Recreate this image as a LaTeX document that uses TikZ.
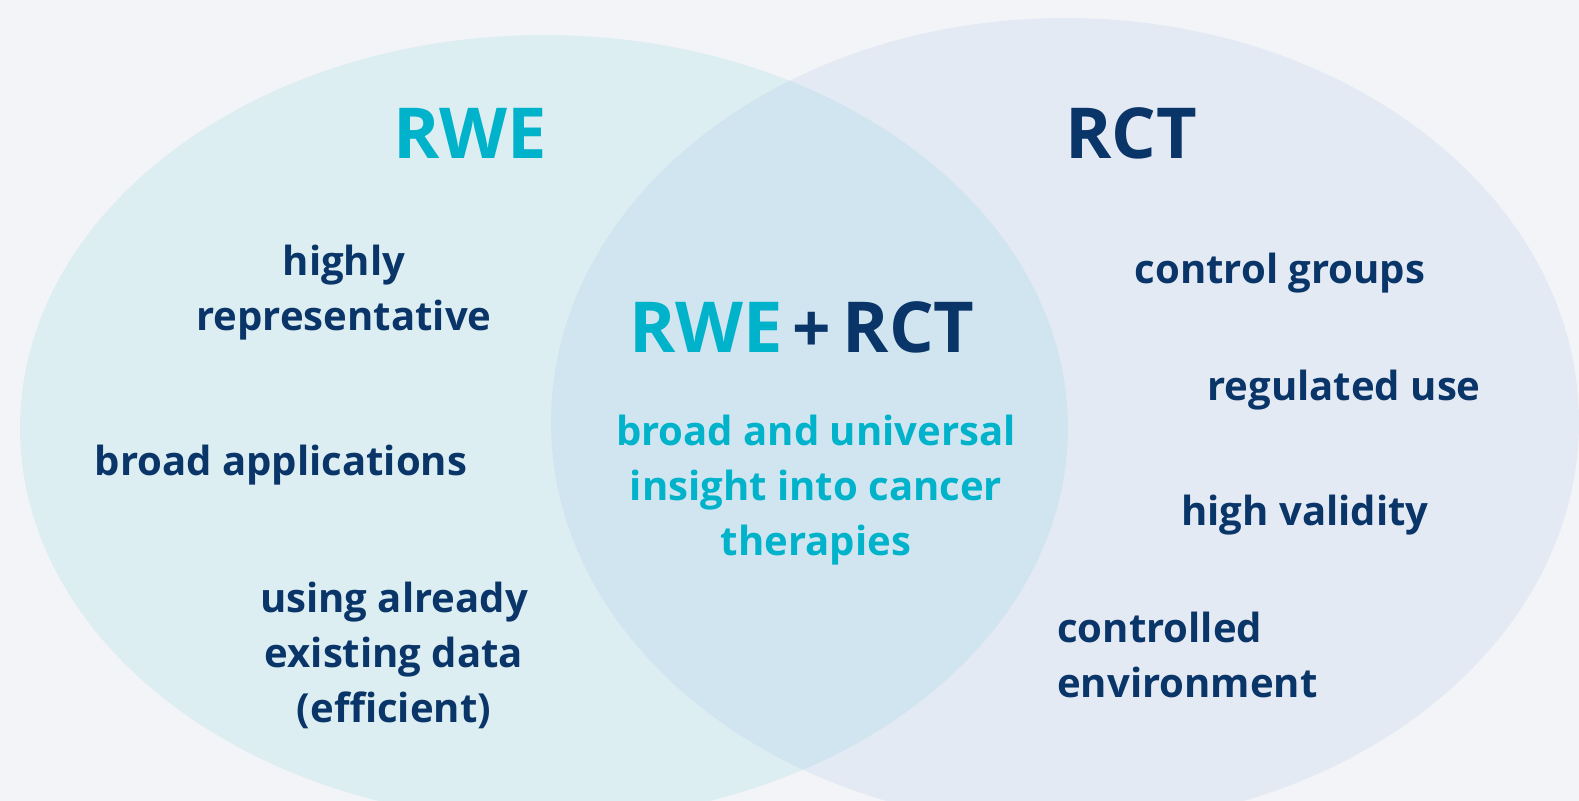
\documentclass[tikz,border=0pt]{standalone}
\usepackage{fontspec}
\setmainfont{Open Sans}
\usepackage{tikz}

\definecolor{paper}{HTML}{F3F4F8}
\definecolor{rweFill}{HTML}{DDEEF2}
\definecolor{rctFill}{HTML}{E4EAF4}
\definecolor{bothFill}{HTML}{D0E5EF}
\definecolor{rweCyan}{HTML}{00B2CA}
\definecolor{rctNavy}{HTML}{0A3568}

\begin{document}
\begin{tikzpicture}[
      x=0.025cm, y=-0.025cm
    ]

    \tikzstyle{heading} = [anchor=base, inner sep=0pt, font=\bfseries\fontsize{50}{60}\selectfont]

    \tikzstyle{feature} = [anchor=base, inner sep=0pt, align=center, text=rctNavy, font=\bfseries\fontsize{28.5}{39}\selectfont]

    % canvas
    \fill [paper] (0,0) rectangle (1579,801);
    \useasboundingbox (0,0) rectangle (1579,801);

    % the two sets and their overlap
    \fill [rweFill] (544,428) ellipse [x radius=524, y radius=393];
    \fill [rctFill] (1065,422) ellipse [x radius=514, y radius=404];
    \begin{scope}
      \clip (544,428) ellipse [x radius=524, y radius=393];
      \fill [bothFill] (1065,422) ellipse [x radius=514, y radius=404];
    \end{scope}

    % headings
    \node [heading, text=rweCyan] (rweTitle) at (470,159) {RWE};
    \node [heading, text=rctNavy] (rctTitle) at (1131,159) {RCT};
    \node [heading, text=rctNavy] (bothTitle) at (802,352) {\textcolor{rweCyan}{RWE}\hspace{0.14em}{\fontsize{48}{50}\selectfont+}\hspace{0.16em}RCT};

    % RWE side (base = last line)
    \node [feature] (representative) at (344,330) {highly\\representative};
    \node [feature] (applications) at (281,475) {broad applications};
    \node [feature] (existing) at (394,722) {using already\\existing data\\(efficient)};

    % overlap
    \node [feature, text=rweCyan] (insight) at (816,555) {broad and universal\\insight into cancer\\therapies};

    % RCT side
    \node [feature] (control) at (1280,283) {control groups};
    \node [feature] (regulated) at (1344,400) {regulated use};
    \node [feature] (validity) at (1305,525) {high validity};
    \node [feature, anchor=base west, align=left] (environment) at (1057,697) {controlled\\environment};

\end{tikzpicture}
\end{document}
